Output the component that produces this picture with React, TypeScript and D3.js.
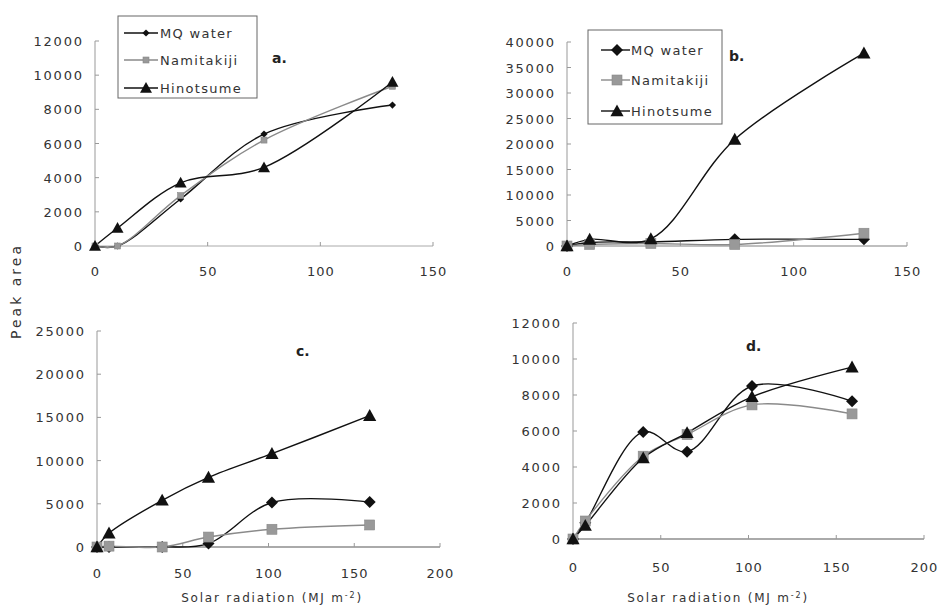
import React from 'react';
import * as d3 from 'd3';

// series names
const seriesNames = ['MQ water', 'Namitakiji', 'Hinotsume'];

// panel a
const aX = [0, 10, 38, 75, 132];
const aMQ = [0, 0, 2750, 6550, 8250];
const aNami = [0, 0, 2950, 6200, 9350];
const aHino = [0, 1050, 3700, 4600, 9600];

// panel b
const bX = [0, 10, 37, 74, 131];
const bMQ = [0, 700, 800, 1300, 1300];
const bNami = [0, 300, 500, 300, 2500];
const bHino = [0, 1300, 1400, 20900, 37800];

// panel c
const cX = [0, 7, 38, 65, 102, 159];
const cMQ = [0, 0, 0, 400, 5150, 5200];
const cNami = [0, 100, 0, 1150, 2050, 2550];
const cHino = [0, 1600, 5400, 8050, 10800, 15200];

// panel d
const dX = [0, 7, 40, 65, 102, 159];
const dMQ = [0, 900, 5950, 4850, 8500, 7650];
const dNami = [0, 1000, 4600, 5800, 7450, 6950];
const dHino = [0, 750, 4500, 5900, 7900, 9550];

const xTicks150 = [0, 50, 100, 150];
const xTicks200 = [0, 50, 100, 150, 200];
const yTicks12k = [0, 2000, 4000, 6000, 8000, 10000, 12000];
const yTicks40k = [0, 5000, 10000, 15000, 20000, 25000, 30000, 35000, 40000];
const yTicks25k = [0, 5000, 10000, 15000, 20000, 25000];

const FONT = '"DejaVu Sans", sans-serif';
const GRAY = '#999';
const SP = 1.8; // letter spacing of y tick labels
const XSP = 1; // letter spacing of x tick labels

function Marker({ kind, x, y, size }) {
    if (kind === 0) {
        const s = size * 0.6;
        return <path d={`M${x},${y - s}L${x + s},${y}L${x},${y + s}L${x - s},${y}Z`} fill="#111" />;
    }
    if (kind === 1) {
        const s = size * 0.5;
        return <rect x={x - s} y={y - s} width={s * 2} height={s * 2} fill={GRAY} stroke="#888" strokeWidth="0.6" />;
    }
    const s = size * 0.6;
    return <path d={`M${x},${y - s}L${x + s},${y + s * 0.8}L${x - s},${y + s * 0.8}Z`} fill="#111" />;
}

function Panel(props) {
    const { xs, series, xDomain, xRange, yDomain, yRange, xTicks, yTicks, label, labelPos, tickY, sizes, xAxisWidth } = props;
    const x = d3.scaleLinear().domain(xDomain).range(xRange);
    const y = d3.scaleLinear().domain(yDomain).range(yRange);
    const line = d3.line().x(d => x(d[0])).y(d => y(d[1])).curve(d3.curveCatmullRom.alpha(0.5));
    const colors = ['#111', '#8a8a8a', '#111'];

    return (
        <g>
            {/* y axis */}
            <line x1={xRange[0]} x2={xRange[0]} y1={yRange[0]} y2={yRange[1]} stroke={GRAY} strokeWidth="1" />
            {yTicks.map(t => (
                <g key={t}>
                    <line x1={xRange[0]} x2={xRange[0] + 4} y1={y(t)} y2={y(t)} stroke={GRAY} />
                    <text x={xRange[0] - 13 + SP} y={y(t) + 5} textAnchor="end" fontSize="13" letterSpacing={SP}
                        fill="#333" fontFamily={FONT}>{t}</text>
                </g>
            ))}
            {/* x axis */}
            <line x1={xRange[0]} x2={xRange[1]} y1={yRange[0]} y2={yRange[0]} stroke="#aaa" strokeWidth={xAxisWidth} />
            {xTicks.map(t => (
                <g key={t}>
                    <line x1={x(t)} x2={x(t)} y1={yRange[0]} y2={yRange[0] - 4} stroke={GRAY} />
                    <text x={x(t) + XSP / 2} y={tickY} textAnchor="middle" fontSize="13" letterSpacing={XSP}
                        fill="#333" fontFamily={FONT}>{t}</text>
                </g>
            ))}
            {series.map((vals, si) => (
                <path key={'l' + si} d={line(xs.map((v, i) => [v, vals[i]]))} fill="none"
                    stroke={colors[si]} strokeWidth="1.4" />
            ))}
            {series.map((vals, si) => xs.map((v, i) => (
                <Marker key={'m' + si + '_' + i} kind={si} x={x(v)} y={y(vals[i])} size={sizes[si]} />
            )))}
            <text x={labelPos[0]} y={labelPos[1]} fontSize="14" fontWeight="bold" fontFamily={FONT} fill="#222">{label}</text>
        </g>
    );
}

function Legend({ x0, y0, w, h, rows, lineX, markerX, textX, sizes }) {
    const colors = ['#111', '#8a8a8a', '#111'];
    return (
        <g>
            <rect x={x0} y={y0} width={w} height={h} fill="white" stroke="#666" strokeWidth="1" />
            {seriesNames.map((n, i) => (
                <g key={n}>
                    <line x1={lineX[0]} x2={lineX[1]} y1={rows[i]} y2={rows[i]} stroke={colors[i]} strokeWidth="1.4" />
                    <Marker kind={i} x={markerX} y={rows[i]} size={sizes[i]} />
                    <text x={textX} y={rows[i] + 5} fontSize="13" letterSpacing="1.3" fill="#333" fontFamily={FONT}>{n}</text>
                </g>
            ))}
        </g>
    );
}

export default function App() {
    const smallSizes = [6, 6, 10];
    const bigSizes = [10, 10, 11];
    return (
        <svg width={938} height={605} style={{ position: 'absolute', left: 0, top: 0, background: 'white' }}>
            <Panel xs={aX} series={[aMQ, aNami, aHino]} xDomain={[0, 150]} xRange={[95, 433]}
                yDomain={[0, 12000]} yRange={[246, 41]} xTicks={xTicks150} yTicks={yTicks12k}
                label="a." labelPos={[272, 63]} tickY={276} sizes={smallSizes} xAxisWidth={1} />
            <Legend x0={118} y0={16} w={139} h={82} rows={[33, 60, 88]} lineX={[124, 158]} markerX={146}
                textX={160} sizes={smallSizes} />

            <Panel xs={bX} series={[bMQ, bNami, bHino]} xDomain={[0, 150]} xRange={[567, 907]}
                yDomain={[0, 40000]} yRange={[246, 42]} xTicks={xTicks150} yTicks={yTicks40k}
                label="b." labelPos={[729, 61]} tickY={276} sizes={bigSizes} xAxisWidth={1.5} />
            <Legend x0={588} y0={30} w={134} h={94} rows={[50, 80, 111]} lineX={[601, 630]} markerX={617}
                textX={631} sizes={bigSizes} />

            <Panel xs={cX} series={[cMQ, cNami, cHino]} xDomain={[0, 200]} xRange={[97, 440]}
                yDomain={[0, 25000]} yRange={[547, 331]} xTicks={xTicks200} yTicks={yTicks25k}
                label="c." labelPos={[296, 356]} tickY={578} sizes={bigSizes} xAxisWidth={2} />

            <Panel xs={dX} series={[dMQ, dNami, dHino]} xDomain={[0, 200]} xRange={[573, 924]}
                yDomain={[0, 12000]} yRange={[539, 323]} xTicks={xTicks200} yTicks={yTicks12k}
                label="d." labelPos={[746, 351]} tickY={572} sizes={bigSizes} xAxisWidth={2} />

            <text transform="translate(21,291) rotate(-90)" textAnchor="middle" fontSize="14" letterSpacing="3"
                fill="#333" fontFamily={FONT}>Peak area</text>
            <text x={272} y={602} textAnchor="middle" fontSize="12" letterSpacing="1.8" fill="#333" fontFamily={FONT}>
                Solar radiation (MJ m<tspan baselineShift="super" fontSize="8">-2</tspan>)
            </text>
            <text x={718} y={602} textAnchor="middle" fontSize="12" letterSpacing="1.8" fill="#333" fontFamily={FONT}>
                Solar radiation (MJ m<tspan baselineShift="super" fontSize="8">-2</tspan>)
            </text>
        </svg>
    );
}
